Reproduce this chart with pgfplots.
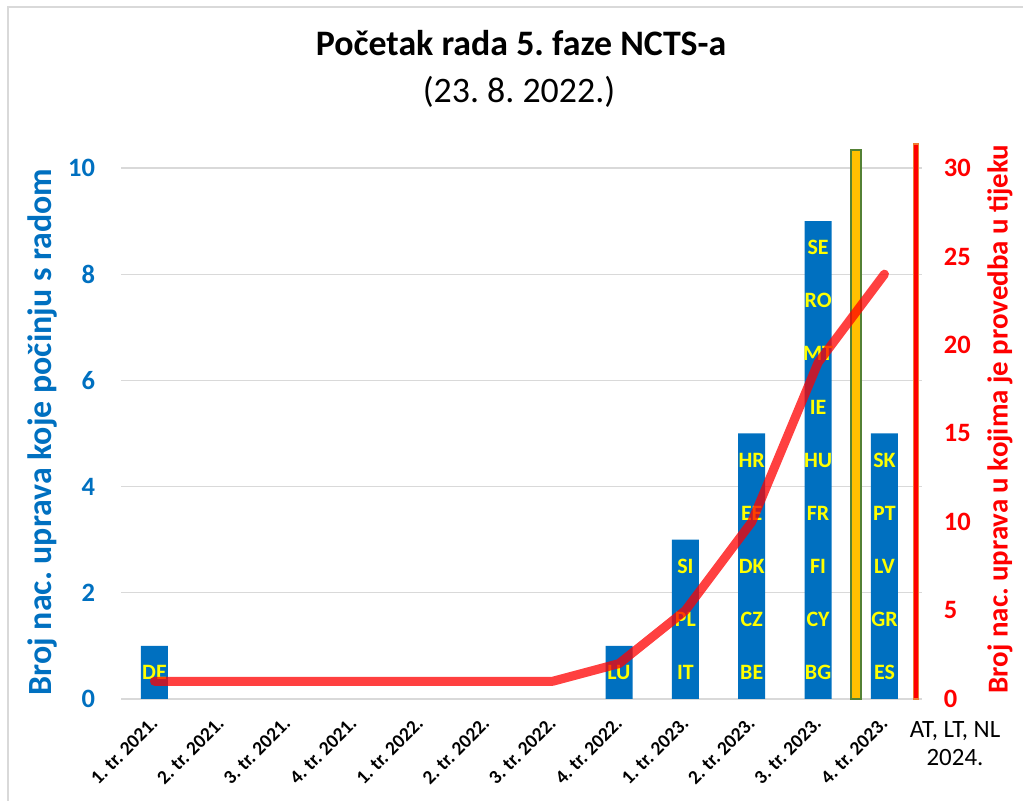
\documentclass[border=0pt]{standalone}
\usepackage{pgfplots}
\pgfplotsset{compat=1.18}
\usepackage{pgfplotstable}
\usepackage{fontspec}
\setmainfont{Carlito}
\definecolor{barblue}{HTML}{0070C0}
\definecolor{gridgray}{HTML}{D9D9D9}
\definecolor{goldbar}{HTML}{FFC000}
\definecolor{greenedge}{HTML}{538135}
\definecolor{orangeedge}{HTML}{ED7D31}
\definecolor{labyellow}{HTML}{FFFF00}

\pgfplotstableread{
x y lab
0 0.5 DE
7 0.5 LU
8 0.5 IT
8 1.5 PL
8 2.5 SI
9 0.5 BE
9 1.5 CZ
9 2.5 DK
9 3.5 EE
9 4.5 HR
10 0.5 BG
10 1.5 CY
10 2.5 FI
10 3.5 FR
10 4.5 HU
10 5.5 IE
10 6.5 MT
10 7.5 RO
10 8.5 SE
11 0.5 ES
11 1.5 GR
11 2.5 LV
11 3.5 PT
11 4.5 SK
}\countrylabels

\begin{document}
\frenchspacing
\begin{tikzpicture}[x=1bp,y=1bp]
\path[use as bounding box] (0,0) rectangle (1023,801);
\draw[color=gridgray, line width=1.2bp] (8,-5) -- (8,794) -- (1030,794);

\node[font=\fontsize{36}{42}\selectfont\bfseries, anchor=base] at (521,745) {Početak rada 5. faze NCTS-a};
\node[font=\fontsize{36}{42}\selectfont, anchor=base] at (519,698) {(23. 8. 2022.)};

\begin{axis}[
  at={(121.3bp,102bp)}, anchor=south west,
  scale only axis, width=800.3bp, height=562.9bp,
  xmin=-0.5, xmax=11.56, ymin=0, ymax=10.6,
  axis line style={draw=none},
  tick style={draw=none},
  major tick length=0pt,
  ytick={0,2,...,10},
  ymajorgrids,
  grid style={color=gridgray, line width=1.2bp},
  xtick={0,...,11},
  xticklabels={1. tr. 2021., 2. tr. 2021., 3. tr. 2021., 4. tr. 2021., 1. tr. 2022., 2. tr. 2022., 3. tr. 2022., 4. tr. 2022., 1. tr. 2023., 2. tr. 2023., 3. tr. 2023., 4. tr. 2023.},
  xticklabel style={font=\fontsize{19.5}{23}\selectfont\bfseries, rotate=45, anchor=east, inner sep=0pt, xshift=-15bp, yshift=-15bp},
  yticklabel style={font=\fontsize{26.6}{30}\selectfont\bfseries, text=barblue, anchor=east, inner sep=0pt, xshift=-26bp},
  /pgf/number format/assume math mode=true,
  clip=false,
]
\addplot[ybar, bar width=27bp, bar shift=0pt, fill=barblue, draw=none]
  coordinates {(0,1) (7,1) (8,3) (9,5) (10,9) (11,5)};
\addplot[ybar, bar width=10bp, bar shift=0pt, fill=goldbar, draw=greenedge, line width=1.5bp]
  coordinates {(10.57,10.34)};
\addplot[ybar, bar width=5bp, bar shift=0pt, fill=red, draw=orangeedge, line width=1.2bp]
  coordinates {(11.475,10.45)};
\addplot[draw=none, mark=none, nodes near coords, point meta=explicit symbolic,
  nodes near coords style={anchor=center, font=\fontsize{22}{26}\selectfont\bfseries, text=labyellow, inner sep=0pt}]
  table[x=x, y=y, meta=lab] {\countrylabels};
\end{axis}

\begin{axis}[
  at={(121.3bp,102bp)}, anchor=south west,
  scale only axis, width=800.3bp, height=562.9bp,
  xmin=-0.5, xmax=11.56, ymin=0, ymax=31.8,
  axis x line=none,
  axis y line*=right,
  axis line style={draw=none},
  tick style={draw=none},
  major tick length=0pt,
  ytick={0,5,...,30},
  yticklabel style={font=\fontsize{26.6}{30}\selectfont\bfseries, text=red, anchor=west, inner sep=0pt, xshift=22bp},
  /pgf/number format/assume math mode=true,
  clip=false,
]
\addplot[color=red, opacity=0.75, line width=9bp, line cap=round, line join=round]
  coordinates {(0,1) (1,1) (2,1) (3,1) (4,1) (5,1) (6,1) (7,2) (8,5) (9,10) (10,19) (11,24)};
\end{axis}

\node[font=\fontsize{34}{38}\selectfont\bfseries, text=barblue, rotate=90] at (42,369) {Broj nac. uprava koje počinju s radom};
\node[font=\fontsize{29}{33}\selectfont\bfseries, text=red, rotate=90] at (1000,382) {Broj nac. uprava u kojima je provedba u tijeku};
\node[font=\fontsize{25}{29}\selectfont, align=center, anchor=base] at (955,35) {AT, LT, NL\\2024.};
\end{tikzpicture}
\end{document}
